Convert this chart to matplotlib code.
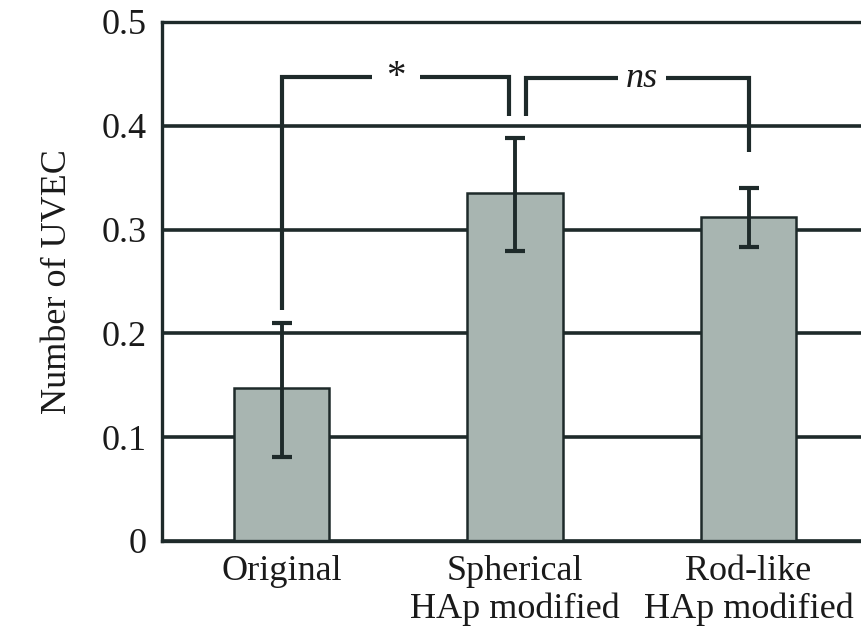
import matplotlib
matplotlib.use("Agg")
import matplotlib.pyplot as plt
import numpy as np

# ---- data ----
categories = ["Original", "Spherical\nHAp modified", "Rod-like\nHAp modified"]
means = [0.147, 0.335, 0.312]
err_low = [0.066, 0.056, 0.029]
err_high = [0.063, 0.053, 0.028]
y_ticks = [0, 0.1, 0.2, 0.3, 0.4, 0.5]
y_ticklabels = ["0", "0.1", "0.2", "0.3", "0.4", "0.5"]

# significance brackets: (x, y) path, label, label position
sig_star_x = [0, 0, 0.974, 0.974]
sig_star_y = [0.2225, 0.447, 0.447, 0.409]
sig_ns_x = [1.047, 1.047, 2.0, 2.0]
sig_ns_y = [0.409, 0.446, 0.446, 0.375]

LINE = "#1e2a2a"
BAR = "#a8b5b1"

plt.rcParams["font.family"] = ["Liberation Serif", "DejaVu Serif"]

fig = plt.figure(figsize=(8.62, 6.34), dpi=100)
ax = fig.add_axes([0.188, 0.1467, 0.819, 0.8186])

x = np.arange(len(categories))
ax.bar(x, means, width=0.41, color=BAR, edgecolor=LINE, linewidth=1.8, zorder=2)
ax.errorbar(x, means, yerr=[err_low, err_high], fmt="none", ecolor=LINE,
            elinewidth=2.8, capsize=7, capthick=3, zorder=3)

ax.set_xlim(-0.512, 2.512)
ax.set_ylim(0, 0.5)
ax.set_yticks(y_ticks)
ax.set_yticklabels(y_ticklabels)
ax.set_xticks(x)
ax.set_xticklabels(categories, linespacing=1.2)
ax.tick_params(axis="both", length=0, labelsize=26, colors="#1a1a1a")
ax.tick_params(axis="y", pad=11)
ax.tick_params(axis="x", pad=10)

ax.set_axisbelow(True)
ax.yaxis.grid(True, color=LINE, linewidth=2.6)
for sp in ax.spines.values():
    sp.set_linewidth(2.4)
    sp.set_color(LINE)

ax.set_ylabel("Number of UVEC", fontsize=26, labelpad=20, color="#1a1a1a")

# brackets with gaps for the labels
def bracket(xs, ys, gap, label, style, size):
    # split top segment around the label
    xa, xb = gap
    ax.plot([xs[0], xs[1], xa], [ys[0], ys[1], ys[1]], color=LINE, lw=3,
            solid_capstyle="butt", solid_joinstyle="miter", zorder=4, clip_on=False)
    ax.plot([xb, xs[2], xs[3]], [ys[2], ys[2], ys[3]], color=LINE, lw=3,
            solid_capstyle="butt", solid_joinstyle="miter", zorder=4, clip_on=False)
    ax.text((xa + xb) / 2, ys[1], label, ha="center", va="center", fontsize=size,
            style=style, color="#1a1a1a")

bracket(sig_star_x, sig_star_y, (0.386, 0.591), "*", "normal", 28)
bracket(sig_ns_x, sig_ns_y, (1.441, 1.647), "ns", "italic", 26)

fig.savefig("out.png", dpi=100)
